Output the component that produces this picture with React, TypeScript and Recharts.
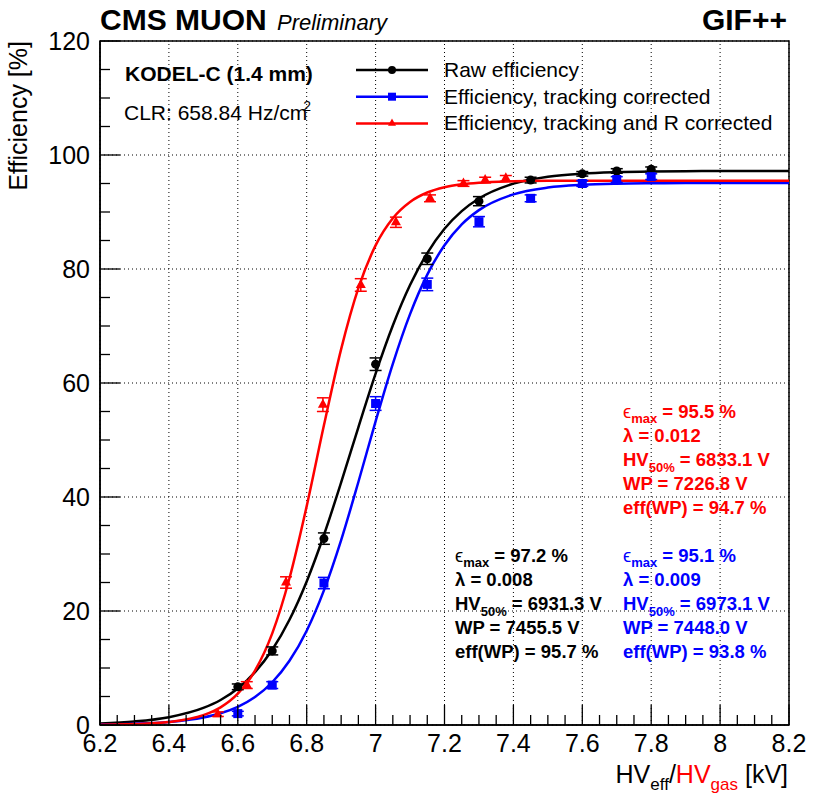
import React from 'react';
import { ComposedChart, Line, Scatter, XAxis, YAxis, ErrorBar, ReferenceArea, ReferenceLine } from 'recharts';

// ---- measured points (HV in kV, efficiency in %) ----
const hvEff = [6.6, 6.7, 6.85, 7.0, 7.15, 7.3, 7.45, 7.6, 7.7, 7.8];
const rawEff = [6.7, 13.0, 32.7, 63.3, 81.8, 91.9, 95.6, 96.7, 97.2, 97.5];
const rawErr = [0.5, 0.7, 1.0, 1.1, 1.0, 0.8, 0.5, 0.4, 0.4, 0.4];
const trkEff = [2.0, 7.0, 24.9, 56.4, 77.3, 88.3, 92.4, 95.0, 95.7, 96.2];
const trkErr = [0.4, 0.6, 1.0, 1.2, 1.1, 0.9, 0.6, 0.5, 0.5, 0.5];
const hvGas = [6.542, 6.626, 6.74, 6.847, 6.957, 7.059, 7.158, 7.255, 7.318, 7.378];
const rCorrEff = [1.9, 7.0, 25.0, 56.2, 77.2, 88.2, 92.4, 95.0, 95.6, 95.9];
const rCorrErr = [0.4, 0.6, 1.0, 1.2, 1.1, 0.9, 0.6, 0.5, 0.5, 0.5];

// ---- fitted sigmoid curves, sampled values ----
const fitHV = [6.2, 6.3, 6.4, 6.5, 6.55, 6.6, 6.65, 6.7, 6.75, 6.8, 6.85, 6.9, 6.95, 7.0, 7.05, 7.1, 7.15, 7.2, 7.25, 7.3, 7.4, 7.5, 7.6, 7.7, 7.8, 7.9, 8.0, 8.1, 8.2];
const rawFit = [0.28, 0.62, 1.37, 2.99, 4.39, 6.41, 9.27, 13.2, 18.46, 25.19, 33.33, 42.55, 52.23, 61.63, 70.08, 77.18, 82.8, 87.06, 90.16, 92.36, 94.97, 96.18, 96.74, 96.99, 97.11, 97.16, 97.18, 97.19, 97.2];
const trkFit = [0.09, 0.22, 0.54, 1.33, 2.07, 3.2, 4.92, 7.5, 11.26, 16.54, 23.61, 32.45, 42.63, 53.28, 63.37, 72.09, 79.02, 84.17, 87.83, 90.33, 93.1, 94.28, 94.76, 94.96, 95.04, 95.08, 95.09, 95.1, 95.1];
const rCorrFit = [0.05, 0.16, 0.53, 1.72, 3.09, 5.49, 9.55, 16.08, 25.74, 38.4, 52.58, 65.95, 76.65, 84.14, 88.91, 91.77, 93.42, 94.35, 94.86, 95.15, 95.39, 95.47, 95.49, 95.5, 95.5, 95.5, 95.5, 95.5, 95.5];

// ---- axes ----
const xDomain = [6.2, 8.2];
const yDomain = [0, 120];
const xMajorTicks = [6.2, 6.4, 6.6, 6.8, 7.0, 7.2, 7.4, 7.6, 7.8, 8.0, 8.2];
const xAllTicks = [6.2, 6.25, 6.3, 6.35, 6.4, 6.45, 6.5, 6.55, 6.6, 6.65, 6.7, 6.75, 6.8, 6.85, 6.9, 6.95, 7.0, 7.05, 7.1, 7.15, 7.2, 7.25, 7.3, 7.35, 7.4, 7.45, 7.5, 7.55, 7.6, 7.65, 7.7, 7.75, 7.8, 7.85, 7.9, 7.95, 8.0, 8.05, 8.1, 8.15, 8.2];
const yMajorTicks = [0, 20, 40, 60, 80, 100, 120];
const yAllTicks = [0, 5, 10, 15, 20, 25, 30, 35, 40, 45, 50, 55, 60, 65, 70, 75, 80, 85, 90, 95, 100, 105, 110, 115, 120];

// ---- labels ----
const seriesNames = ['Raw efficiency', 'Efficiency, tracking corrected', 'Efficiency, tracking and R corrected'];
const seriesColors = ['#000000', '#0000ff', '#ff0000'];
const seriesShapes = ['circle', 'square', 'triangle'];
const fitEmax = ['97.2', '95.1', '95.5'];
const fitLambda = ['0.008', '0.009', '0.012'];
const fitHV50 = ['6931.3', '6973.1', '6833.1'];
const fitWP = ['7455.5', '7448.0', '7226.8'];
const fitEffWP = ['95.7', '93.8', '94.7'];

const FONT = '"Liberation Sans", Arial, Helvetica, sans-serif';
const W = 830;
const H = 806;

const pts = (xs: number[], ys: number[], es?: number[]) =>
  xs.map((x, i) => ({ x, y: ys[i], err: es ? es[i] : 0 }));

const rawPoints = pts(hvEff, rawEff, rawErr);
const trkPoints = pts(hvEff, trkEff, trkErr);
const rPoints = pts(hvGas, rCorrEff, rCorrErr);
const rawCurve = pts(fitHV, rawFit);
const trkCurve = pts(fitHV, trkFit);
const rCurve = pts(fitHV, rCorrFit);

const isMajor = (v: number, majors: number[]) => majors.some((m) => Math.abs(m - v) < 1e-6);

function MarkerShape({ cx, cy, kind, color, s }: any) {
  if (cx == null || cy == null) return null;
  if (kind === 'circle') return <circle cx={cx} cy={cy} r={s / 2} fill={color} />;
  if (kind === 'square') return <rect x={cx - s / 2} y={cy - s / 2} width={s} height={s} fill={color} />;
  const h = s * 0.9;
  return (
    <polygon
      points={`${cx},${cy - (2 * h) / 3} ${cx - s / 2},${cy + h / 3} ${cx + s / 2},${cy + h / 3}`}
      fill={color}
    />
  );
}

function XTick(props: any) {
  const { x, y, payload } = props;
  const v = payload.value as number;
  const major = isMajor(v, xMajorTicks);
  const len = major ? 20 : 10;
  return (
    <g>
      <line x1={x} x2={x} y1={y} y2={y - len} stroke="#000" strokeWidth={1.3} />
      {major && (
        <text x={x} y={y + 27} textAnchor="middle" fontSize={25} fontFamily={FONT} fill="#000">
          {String(Number(v.toFixed(1)))}
        </text>
      )}
    </g>
  );
}

function YTick(props: any) {
  const { x, y, payload } = props;
  const v = payload.value as number;
  const major = isMajor(v, yMajorTicks);
  const len = major ? 20 : 10;
  return (
    <g>
      <line x1={x} x2={x + len} y1={y} y2={y} stroke="#000" strokeWidth={1.3} />
      {major && (
        <text x={x - 10} y={y + 9} textAnchor="end" fontSize={25} fontFamily={FONT} fill="#000">
          {String(v)}
        </text>
      )}
    </g>
  );
}

function FitBlock({ x, y0, idx }: { x: number; y0: number; idx: number }) {
  const c = seriesColors[idx];
  const fs = 18.5;
  const step = 24;
  const common = { fontFamily: FONT, fontWeight: 700, fontSize: fs, fill: c } as any;
  return (
    <g>
      <text x={x} y={y0} {...common}>
        <tspan fontWeight={400}>ϵ</tspan>
        <tspan fontSize={13} dy={5}>max</tspan>
        <tspan dy={-5}>{` = ${fitEmax[idx]} %`}</tspan>
      </text>
      <text x={x} y={y0 + step} {...common}>{`λ = ${fitLambda[idx]}`}</text>
      <text x={x} y={y0 + 2 * step} {...common}>
        <tspan>HV</tspan>
        <tspan fontSize={13} dy={6}>50%</tspan>
        <tspan dy={-6}>{` = ${fitHV50[idx]} V`}</tspan>
      </text>
      <text x={x} y={y0 + 3 * step} {...common}>{`WP = ${fitWP[idx]} V`}</text>
      <text x={x} y={y0 + 4 * step} {...common}>{`eff(WP) = ${fitEffWP[idx]} %`}</text>
    </g>
  );
}

export default function App() {
  const pointSets = [rawPoints, trkPoints, rPoints];
  const curveSets = [rawCurve, trkCurve, rCurve];
  const markerSize = [9, 9, 10];
  return (
    <div style={{ position: 'absolute', left: 0, top: 0, width: W, height: H, background: '#fff', fontFamily: FONT }}>
      <ComposedChart width={W} height={H} margin={{ top: 41, right: 41, left: 40, bottom: 41 }}>
        <XAxis
          type="number"
          dataKey="x"
          domain={xDomain}
          ticks={xAllTicks}
          interval={0}
          allowDataOverflow
          height={40}
          tickSize={0}
          tickMargin={0}
          tickLine={false}
          axisLine={{ stroke: '#000', strokeWidth: 1.5 }}
          tick={(p: any) => <XTick {...p} />}
        />
        <YAxis
          type="number"
          dataKey="y"
          domain={yDomain}
          ticks={yAllTicks}
          interval={0}
          allowDataOverflow
          width={60}
          tickSize={0}
          tickMargin={0}
          tickLine={false}
          axisLine={{ stroke: '#000', strokeWidth: 1.5 }}
          tick={(p: any) => <YTick {...p} />}
        />
        {xMajorTicks.map((v) => (
          <ReferenceLine key={`gx-${v}`} x={v} stroke="#000" strokeWidth={1} strokeDasharray="1 3" ifOverflow="visible" />
        ))}
        {yMajorTicks.map((v) => (
          <ReferenceLine key={`gy-${v}`} y={v} stroke="#000" strokeWidth={1} strokeDasharray="1 3" ifOverflow="visible" />
        ))}
        <ReferenceArea
          x1={xDomain[0]}
          x2={xDomain[1]}
          y1={yDomain[0]}
          y2={yDomain[1]}
          fill="none"
          fillOpacity={0}
          stroke="#000"
          strokeWidth={1.5}
          ifOverflow="visible"
        />
        {curveSets.map((d, i) => (
          <Line
            key={`fit-${i}`}
            data={d}
            dataKey="y"
            type="monotone"
            stroke={seriesColors[i]}
            strokeWidth={2.5}
            dot={false}
            activeDot={false}
            isAnimationActive={false}
            legendType="none"
          />
        ))}
        {pointSets.map((d, i) => (
          <Scatter
            key={`pts-${i}`}
            name={seriesNames[i]}
            data={d}
            dataKey="y"
            fill={seriesColors[i]}
            isAnimationActive={false}
            shape={(p: any) => (
              <MarkerShape cx={p.cx} cy={p.cy} kind={seriesShapes[i]} color={seriesColors[i]} s={markerSize[i]} />
            )}
          >
            <ErrorBar dataKey="err" direction="y" width={6} stroke={seriesColors[i]} strokeWidth={1.5} isAnimationActive={false} />
          </Scatter>
        ))}
      </ComposedChart>

      <svg
        width={W}
        height={H}
        style={{ position: 'absolute', left: 0, top: 0, pointerEvents: 'none' }}
        fontFamily={FONT}
      >
        {/* header */}
        <text x={100} y={30} fontSize={30} fontWeight={700} fill="#000">CMS MUON</text>
        <text x={277} y={30} fontSize={22} fontStyle="italic" fill="#000">Preliminary</text>
        <text x={787} y={30} fontSize={30} fontWeight={700} fill="#000" textAnchor="end">GIF++</text>

        {/* axis titles */}
        <text transform="rotate(-90)" x={-41} y={27} fontSize={25} textAnchor="end" fill="#000">
          Efficiency [%]
        </text>
        <text x={788} y={783} fontSize={25} textAnchor="end" fill="#000">
          <tspan>HV</tspan>
          <tspan fontSize={17} dy={7}>eff</tspan>
          <tspan dy={-7}>/</tspan>
          <tspan fill="#ff0000">HV</tspan>
          <tspan fill="#ff0000" fontSize={17} dy={7}>gas</tspan>
          <tspan dy={-7}> [kV]</tspan>
        </text>

        {/* detector info */}
        <text x={125} y={81} fontSize={21} fontWeight={700} fill="#000">KODEL-C (1.4 mm)</text>
        <text x={124} y={120} fontSize={21} fill="#000">
          <tspan>CLR: 658.84 Hz/cm</tspan>
          <tspan fontSize={14} dx={-4} dy={-9}>2</tspan>
        </text>

        {/* legend */}
        {seriesNames.map((n, i) => {
          const ly = 70 + i * 26.7;
          return (
            <g key={n}>
              <line x1={356} x2={428} y1={ly} y2={ly} stroke={seriesColors[i]} strokeWidth={2.5} />
              <MarkerShape cx={392} cy={ly} kind={seriesShapes[i]} color={seriesColors[i]} s={8} />
              <text x={444} y={ly + 7} fontSize={21} fill="#000">{n}</text>
            </g>
          );
        })}

        {/* fit results */}
        <FitBlock x={623} y0={418} idx={2} />
        <FitBlock x={455} y0={562} idx={0} />
        <FitBlock x={623} y0={562} idx={1} />
      </svg>
    </div>
  );
}
